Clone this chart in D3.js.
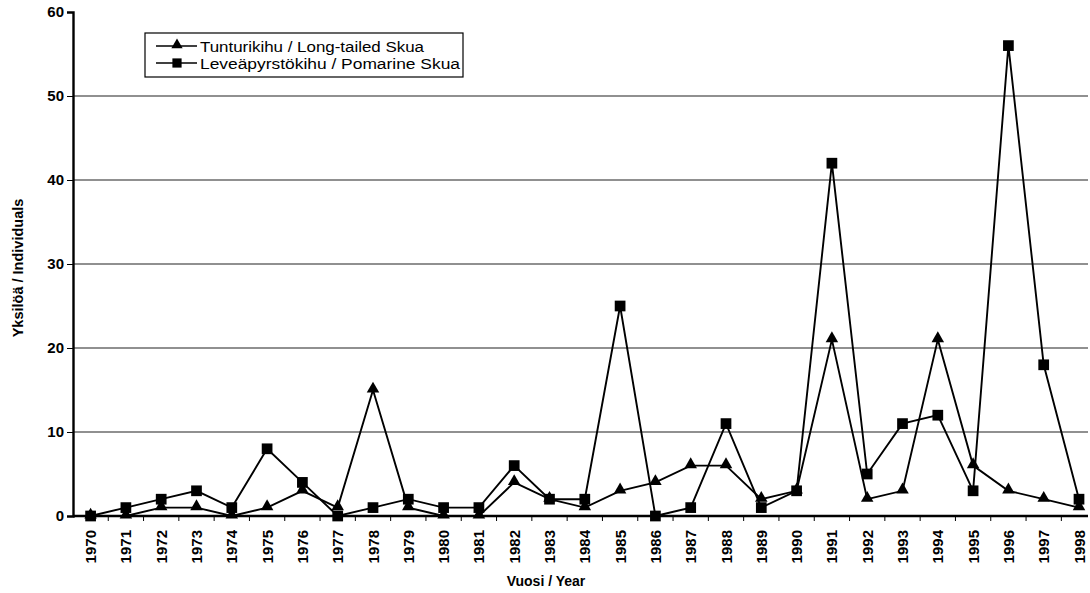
<!DOCTYPE html>
<html>
<head>
<meta charset="utf-8">
<script src="https://cdn.jsdelivr.net/npm/d3@7"></script>
<style>
  html, body { margin: 0; padding: 0; background: #fff; }
  svg { display: block; font-family: "Liberation Sans", Arial, sans-serif; }
</style>
</head>
<body>
<svg id="chart" width="1090" height="593"></svg>
<script>
const years = ["1970","1971","1972","1973","1974","1975","1976","1977","1978","1979","1980","1981","1982","1983","1984","1985","1986","1987","1988","1989","1990","1991","1992","1993","1994","1995","1996","1997","1998"];
const longTailed = [0,0,1,1,0,1,3,1,15,1,0,0,4,2,1,3,4,6,6,2,3,21,2,3,21,6,3,2,1];
const pomarine   = [0,1,2,3,1,8,4,0,1,2,1,1,6,2,2,25,0,1,11,1,3,42,5,11,12,3,56,18,2];
const yTicks = [0,10,20,30,40,50,60];
const seriesNames = ["Tunturikihu / Long-tailed Skua", "Leveäpyrstökihu / Pomarine Skua"];
const yTitle = "Yksilöä / Individuals";
const xTitle = "Vuosi / Year";

(function () {
const svg = d3.select("#chart");
const pLeft = 73, pRight = 1088, pTop = 12, pBottom = 516;

const x = d3.scalePoint().domain(years).range([90.6, 1079]);
const step = x.step();
const y = d3.scaleLinear().domain([0, 60]).range([pBottom, pTop]);

// gridlines
svg.append("g").selectAll("line").data(yTicks.filter(d => d > 0 && d < 60)).join("line")
  .attr("x1", pLeft).attr("x2", pRight)
  .attr("y1", d => y(d)).attr("y2", d => y(d))
  .attr("stroke", "#222").attr("stroke-width", 1.2);

// y axis
const yAxis = svg.append("g").attr("transform", `translate(${pLeft},0)`)
  .call(d3.axisLeft(y).tickValues(yTicks).tickSize(6).tickPadding(3));
yAxis.select(".domain").attr("stroke", "#000").attr("stroke-width", 2.4);
yAxis.selectAll(".tick line").attr("stroke", "#000").attr("stroke-width", 1);
yAxis.selectAll(".tick text").attr("font-size", 15).attr("font-weight", "bold")
  .attr("font-family", "Liberation Sans, Arial, sans-serif").attr("fill", "#000");

// x axis baseline
svg.append("line").attr("x1", pLeft).attr("x2", pRight).attr("y1", pBottom).attr("y2", pBottom)
  .attr("stroke", "#000").attr("stroke-width", 2.4);
// boundary ticks
const bounds = years.map(d => x(d) + step / 2).filter(v => v < pRight);
svg.append("g").selectAll("line").data(bounds).join("line")
  .attr("x1", d => d).attr("x2", d => d).attr("y1", pBottom).attr("y2", pBottom + 5)
  .attr("stroke", "#000").attr("stroke-width", 1);

// x tick labels (rotated)
svg.append("g").selectAll("text").data(years).join("text")
  .attr("transform", d => `translate(${x(d) + 5.5},${pBottom + 14}) rotate(-90)`)
  .attr("text-anchor", "end")
  .attr("font-size", 15).attr("font-weight", "bold").attr("fill", "#000")
  .text(d => d);

// axis titles
svg.append("text").attr("x", 546).attr("y", 586).attr("text-anchor", "middle")
  .attr("font-size", 14).attr("font-weight", "bold").text(xTitle);
svg.append("text").attr("transform", `translate(23,268) rotate(-90)`)
  .attr("text-anchor", "middle").attr("font-size", 14.5).attr("font-weight", "bold").text(yTitle);

// lines
const line = d3.line().x((d, i) => x(years[i])).y(d => y(d));
const tri = d3.symbol().type(d3.symbolTriangle).size(68);
const sq = d3.symbol().type(d3.symbolSquare).size(115);

svg.append("path").datum(longTailed).attr("d", line)
  .attr("fill", "none").attr("stroke", "#000").attr("stroke-width", 1.9);
svg.append("path").datum(pomarine).attr("d", line)
  .attr("fill", "none").attr("stroke", "#000").attr("stroke-width", 1.9);

svg.append("g").selectAll("path").data(longTailed).join("path")
  .attr("d", tri).attr("transform", (d, i) => `translate(${x(years[i])},${y(d) - 1})`).attr("fill", "#000");
svg.append("g").selectAll("path").data(pomarine).join("path")
  .attr("d", sq).attr("transform", (d, i) => `translate(${x(years[i])},${y(d)})`).attr("fill", "#000");

// legend
const lg = svg.append("g");
lg.append("rect").attr("x", 145).attr("y", 33).attr("width", 318).attr("height", 44)
  .attr("fill", "#fff").attr("stroke", "#000").attr("stroke-width", 1.2);
const rows = [46, 63];
const widths = [224, 260];
const syms = [d3.symbol().type(d3.symbolTriangle).size(55), d3.symbol().type(d3.symbolSquare).size(85)];
seriesNames.forEach((name, i) => {
  lg.append("line").attr("x1", 156).attr("x2", 197).attr("y1", rows[i]).attr("y2", rows[i])
    .attr("stroke", "#000").attr("stroke-width", 1.5);
  lg.append("path").attr("d", syms[i]).attr("transform", `translate(177,${rows[i] - (i === 0 ? 1 : 0)})`).attr("fill", "#000");
  lg.append("text").attr("x", 200).attr("y", rows[i] + 5.5).attr("font-size", 15.5).attr("fill", "#000")
    .attr("textLength", widths[i]).attr("lengthAdjust", "spacingAndGlyphs").text(name);
});
})();
</script>
</body>
</html>
